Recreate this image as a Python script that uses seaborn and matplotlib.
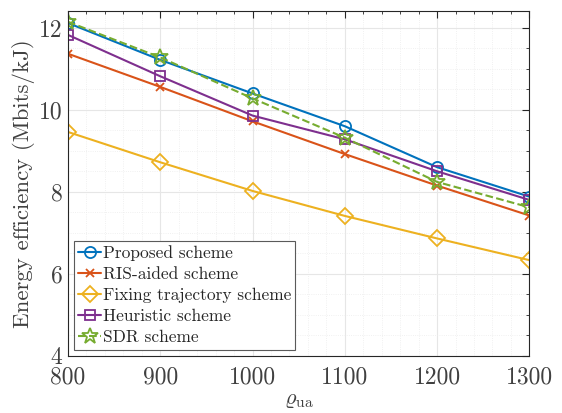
import matplotlib
matplotlib.use("Agg")
import matplotlib.pyplot as plt
import matplotlib.ticker as mticker
import seaborn as sns
import pandas as pd

rho_ua = [800, 900, 1000, 1100, 1200, 1300]
proposed = [12.12, 11.22, 10.40, 9.60, 8.60, 7.88]
ris_aided = [11.37, 10.56, 9.72, 8.92, 8.15, 7.42]
fixing_traj = [9.46, 8.72, 8.02, 7.41, 6.86, 6.33]
heuristic = [11.83, 10.82, 9.86, 9.28, 8.50, 7.80]
sdr = [12.15, 11.28, 10.28, 9.32, 8.24, 7.62]

labels = ["Proposed scheme", "RIS-aided scheme", "Fixing trajectory scheme",
          "Heuristic scheme", "SDR scheme"]
series = [proposed, ris_aided, fixing_traj, heuristic, sdr]
colors = ["#0072BD", "#D95319", "#EDB120", "#7E2F8E", "#77AC30"]
markers = ["o", "x", "D", "s", "*"]
msizes = [8, 6, 8, 7, 12]
styles = ["-", "-", "-", "-", "--"]

df = pd.concat([pd.DataFrame({"rho": rho_ua, "ee": v, "scheme": l})
                for v, l in zip(series, labels)])

sns.set_style("white")
plt.rcParams["mathtext.fontset"] = "cm"
plt.rcParams["font.family"] = ["cmr10", "DejaVu Serif"]
plt.rcParams["axes.unicode_minus"] = False
plt.rcParams["axes.formatter.use_mathtext"] = True

txt = "#404040"
fig, ax = plt.subplots(figsize=(5.62, 4.13), dpi=100)
fig.subplots_adjust(left=0.121, right=0.942, top=0.974, bottom=0.139)

for lab, col, mk, ms, ls in zip(labels, colors, markers, msizes, styles):
    sub = df[df["scheme"] == lab]
    sns.lineplot(data=sub, x="rho", y="ee", ax=ax, color=col, marker=mk,
                 markersize=ms, markerfacecolor="none", markeredgecolor=col,
                 markeredgewidth=1.3, linewidth=1.5, linestyle=ls, label=lab)

ax.set_xlim(800, 1300)
ax.set_ylim(4, 12.42)
ax.xaxis.set_major_locator(mticker.MultipleLocator(100))
ax.xaxis.set_minor_locator(mticker.MultipleLocator(20))
ax.yaxis.set_major_locator(mticker.MultipleLocator(2))
ax.yaxis.set_minor_locator(mticker.MultipleLocator(0.5))
fmt = mticker.FuncFormatter(lambda v, p: "%d" % round(v))
ax.xaxis.set_major_formatter(fmt)
ax.yaxis.set_major_formatter(fmt)

ax.grid(True, which="major", color="#e6e6e6", linewidth=0.8, linestyle="-")
ax.grid(True, which="minor", color="#ececec", linewidth=0.6, linestyle=":")
ax.set_axisbelow(True)

ax.tick_params(which="both", direction="in", top=True, right=True,
               colors="#262626", labelcolor=txt, labelsize=17)
ax.tick_params(axis="x", pad=8)
ax.tick_params(axis="y", pad=4)
ax.tick_params(which="major", length=5, width=0.8)
ax.tick_params(which="minor", length=2.5, width=0.6)
for s in ax.spines.values():
    s.set_color("#262626")
    s.set_linewidth(0.8)

ax.set_xlabel(r"$\varrho_{\mathrm{ua}}$", fontsize=16, color=txt, labelpad=1)
ax.set_ylabel("Energy efficiency (Mbits/kJ)", fontsize=16.5,
              color=txt, labelpad=3)

leg = ax.legend(loc="lower left", fontsize=12.5, frameon=True, fancybox=False,
                edgecolor="#5a5a5a", framealpha=1, borderpad=0.25,
                labelspacing=0.33, handlelength=1.3, handletextpad=0.1,
                borderaxespad=0.35, bbox_to_anchor=(0.0, 0.0))
leg.get_frame().set_linewidth(0.8)
for t in leg.get_texts():
    t.set_color("#262626")

fig.savefig("out.png", dpi=100)
